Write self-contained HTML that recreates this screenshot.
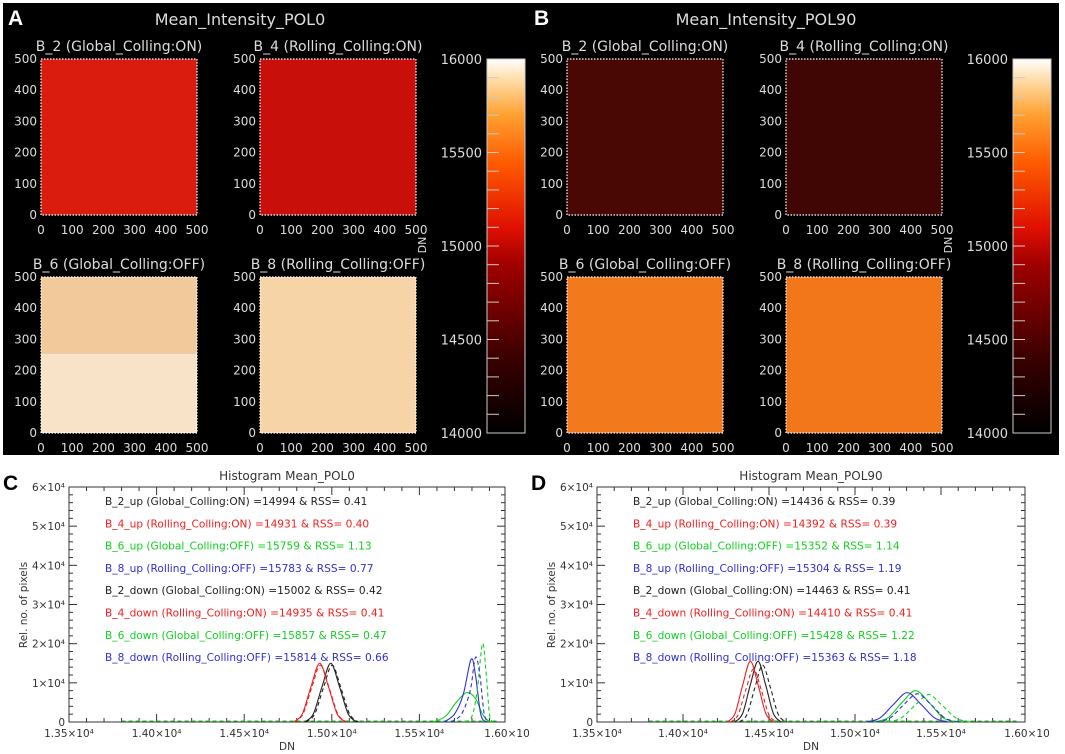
<!DOCTYPE html>
<html><head><meta charset="utf-8"><style>
html,body{margin:0;padding:0;background:#fff;}
svg{display:block;font-family:"DejaVu Sans","Liberation Sans",sans-serif;}
</style></head><body>
<svg id="fig" width="1065" height="754" viewBox="0 0 1065 754">
<defs>
<linearGradient id="cb" x1="0" y1="1" x2="0" y2="0">
<stop offset="0" stop-color="#000"/><stop offset="0.2" stop-color="#3a0000"/><stop offset="0.45" stop-color="#a00000"/>
<stop offset="0.55" stop-color="#e01000"/><stop offset="0.72" stop-color="#ff5a00"/><stop offset="0.85" stop-color="#ffa030"/>
<stop offset="0.95" stop-color="#ffe0b0"/><stop offset="1" stop-color="#fff"/></linearGradient>
</defs>
<rect x="0" y="0" width="1065" height="754" fill="#fff"/>
<g id="panels"></g>
<g id="hists"></g>
</svg>
<script>
// ---- heatmap panel data ----
const panelTitles = ["Mean_Intensity_POL0","Mean_Intensity_POL90"];
const panelLetters = ["A","B"];
const subTitles = ["B_2  (Global_Colling:ON)","B_4  (Rolling_Colling:ON)","B_6  (Global_Colling:OFF)","B_8  (Rolling_Colling:OFF)"];
const meanColorsA = ["#d91c0e","#c90f0a","#f3c590","#f6d4a8"];
const meanColorsB = ["#4a0805","#400604","#f27a1c","#f2761a"];
const axisTicks = [0,100,200,300,400,500];
const cbTicks = [14000,14500,15000,15500,16000];

// ---- histogram data (DN, counts in 1e4) ----
const histTitles = ["Histogram  Mean_POL0","Histogram  Mean_POL90"];
const histLetters = ["C","D"];
const xTicks = [13500,14000,14500,15000,15500,16000];
const xTickLabels = ["1.35×10⁴","1.40×10⁴","1.45×10⁴","1.50×10⁴","1.55×10⁴","1.60×10"];
const yTicks = [0,1,2,3,4,5,6];
const yTickLabels = ["0","1×10⁴","2×10⁴","3×10⁴","4×10⁴","5×10⁴","6×10⁴"];
const legendC = ["B_2_up (Global_Colling:ON) =14994 & RSS= 0.41","B_4_up (Rolling_Colling:ON) =14931 & RSS= 0.40","B_6_up (Global_Colling:OFF) =15759 & RSS= 1.13","B_8_up (Rolling_Colling:OFF) =15783 & RSS= 0.77","B_2_down (Global_Colling:ON) =15002 & RSS= 0.42","B_4_down (Rolling_Colling:ON) =14935 & RSS= 0.41","B_6_down (Global_Colling:OFF) =15857 & RSS= 0.47","B_8_down (Rolling_Colling:OFF) =15814 & RSS= 0.66"];
const legendD = ["B_2_up (Global_Colling:ON) =14436 & RSS= 0.39","B_4_up (Rolling_Colling:ON) =14392 & RSS= 0.39","B_6_up (Global_Colling:OFF) =15352 & RSS= 1.14","B_8_up (Rolling_Colling:OFF) =15304 & RSS= 1.19","B_2_down (Global_Colling:ON) =14463 & RSS= 0.41","B_4_down (Rolling_Colling:ON) =14410 & RSS= 0.41","B_6_down (Global_Colling:OFF) =15428 & RSS= 1.22","B_8_down (Rolling_Colling:OFF) =15363 & RSS= 1.18"];
const seriesColors = ["#222","#f02020","#10d020","#3030d0","#222","#f02020","#10d020","#3030d0"];
const seriesDashed = [false,false,false,false,true,true,true,true];
const cX = [
 [14844,14894,14944,14994,15044,15094,15144],
 [14781,14831,14881,14931,14981,15031,15081],
 [15580,15650,15710,15770,15820,15860,15900],
 [15640,15700,15750,15795,15820,15850,15880],
 [14852,14902,14952,15002,15052,15102,15152],
 [14785,14835,14885,14935,14985,15035,15085],
 [15760,15800,15830,15860,15880,15900,15920],
 [15680,15740,15790,15820,15845,15870,15895]];
const cY = [
 [0,0.2,0.9,1.5,0.9,0.2,0],
 [0,0.2,0.9,1.5,0.9,0.2,0],
 [0,0.15,0.5,0.75,0.6,0.2,0],
 [0,0.2,0.7,1.6,1.2,0.2,0],
 [0,0.2,0.87,1.45,0.87,0.2,0],
 [0,0.2,0.87,1.45,0.87,0.2,0],
 [0,0.15,0.8,2.0,1.3,0.2,0],
 [0,0.2,0.8,1.65,1.2,0.2,0]];
const dX = [
 [14301,14346,14391,14436,14481,14526,14571],
 [14257,14302,14347,14392,14437,14482,14527],
 [15112,15192,15272,15352,15432,15512,15592],
 [15064,15144,15224,15304,15384,15464,15544],
 [14328,14373,14418,14463,14508,14553,14598],
 [14275,14320,14365,14410,14455,14500,14545],
 [15188,15268,15348,15428,15508,15588,15668],
 [15123,15203,15283,15363,15443,15523,15603]];
const dY = [
 [0,0.21,0.94,1.55,0.94,0.21,0],
 [0,0.21,0.94,1.55,0.94,0.21,0],
 [0,0.11,0.49,0.8,0.49,0.11,0],
 [0,0.1,0.45,0.75,0.45,0.1,0],
 [0,0.2,0.88,1.45,0.88,0.2,0],
 [0,0.18,0.82,1.35,0.82,0.18,0],
 [0,0.1,0.42,0.7,0.42,0.1,0],
 [0,0.1,0.44,0.72,0.44,0.1,0]];

const NS="http://www.w3.org/2000/svg";
function mk(parent,tag,attrs,text){const e=document.createElementNS(NS,tag);for(const k in attrs)e.setAttribute(k,attrs[k]);if(text!==undefined)e.textContent=text;parent.appendChild(e);return e;}

// ---------- heatmap panels ----------
const panelRoot=document.getElementById('panels');
[0,1].forEach(pi=>{
 const ox = pi===0?0:526;
 const g=mk(panelRoot,'g',{});
 
 
 const bg=mk(g,'rect',{x:ox+3,y:3,width:pi===0?527:530,height:452,fill:'#000'});
 
 
 const L=mk(g,'text',{x:ox+8,y:25,fill:'#fff','font-size':21,'font-weight':'bold','font-family':'Liberation Sans,sans-serif'},panelLetters[pi]);
 
 
 const T=mk(g,'text',{x:ox+240,y:25,fill:'#ddd','font-size':16,'text-anchor':'middle'},panelTitles[pi]);
 
 
 const cols = pi===0?meanColorsA:meanColorsB;
 const pos=[[41,59],[260,59],[41,277],[260,277]];
 pos.forEach((p,i)=>{
  const x=ox+p[0], y=p[1], w=156, h=156;
  const sg=mk(g,'g',{});
  
  
  if(pi===0&&i===2){
   mk(sg,'rect',{x:x,y:y,width:w,height:h*0.49,fill:'#f2c99a'});
   mk(sg,'rect',{x:x,y:y+h*0.49,width:w,height:h*0.51,fill:'#f9e3c8'});
  } else mk(sg,'rect',{x:x,y:y,width:w,height:h,fill:cols[i]});
  mk(sg,'rect',{x:x,y:y,width:w,height:h,fill:'none',stroke:'#fff','stroke-width':1.2,'stroke-dasharray':'1.5 1.5'});
  const st=mk(sg,'text',{x:x+w/2,y:y-8,fill:'#ddd','font-size':14,'text-anchor':'middle'},subTitles[i]);
  
  
  axisTicks.forEach(t=>{
   const yy=y+h-t/500*h;
   mk(sg,'text',{x:x-4,y:yy+4,fill:'#ddd','font-size':12,'text-anchor':'end'},String(t));
   const xx=x+t/500*w;
   mk(sg,'text',{x:xx,y:y+h+19,fill:'#ddd','font-size':12,'text-anchor':'middle'},String(t));
  });
 });
 const dn=mk(g,'text',{x:0,y:0,fill:'#ddd','font-size':11,'text-anchor':'middle',transform:`translate(${ox+426},245) rotate(-90)`},'DN');
 
 
 const cbx=ox+487, cby=59, cbh=374, cbw=38;
 const cb=mk(g,'rect',{x:cbx,y:cby,width:cbw,height:cbh,fill:'url(#cb)'});
 
 
 mk(g,'rect',{x:cbx,y:cby,width:cbw,height:cbh,fill:'none',stroke:'#ccc','stroke-width':1});
 const cyS=v=>cby+cbh-(v-14000)/2000*cbh;
 for(let v=14000;v<=16000;v+=100){mk(g,'line',{x1:cbx,x2:cbx+12,y1:cyS(v),y2:cyS(v),stroke:'#ccc','stroke-width':1});}
 cbTicks.forEach(v=>{mk(g,'text',{x:cbx-5,y:cyS(v)+5,fill:'#ddd','font-size':13,'text-anchor':'end'},String(v));});
});

// ---------- histograms ----------
const histRoot=document.getElementById('hists');
const histBoxes=[{l:69,r:505},{l:597,r:1025}];
const plotTop=487, plotBot=722;
[0,1].forEach(hi=>{
 const b=histBoxes[hi];
 const xScale=v=>b.l+(v-13500)/2500*(b.r+2-b.l);
 const yScale=v=>plotBot-v/6*(plotBot-plotTop);
 const g=mk(histRoot,'g',{});
 
 
 const L=mk(g,'text',{x:b.l-66,y:490,fill:'#000','font-size':21,'font-weight':'bold','font-family':'Liberation Sans,sans-serif'},histLetters[hi]);
 
 
 const T=mk(g,'text',{x:(b.l+b.r)/2,y:480,fill:'#333','font-size':12,'text-anchor':'middle'},histTitles[hi]);
 
 
 mk(g,'rect',{x:b.l,y:plotTop,width:b.r-b.l,height:plotBot-plotTop,fill:'none',stroke:'#333','stroke-width':1});
 for(let v=13500;v<=16000;v+=100){const x=xScale(v);if(x>b.r)continue;const major=(v%500===0);const len=major?8:4;
  mk(g,'line',{x1:x,x2:x,y1:plotBot,y2:plotBot-len,stroke:'#333'});mk(g,'line',{x1:x,x2:x,y1:plotTop,y2:plotTop+len,stroke:'#333'});}
 for(let v=0;v<=6.01;v+=0.2){const y=yScale(v);const major=Math.abs(v-Math.round(v))<0.01;const len=major?8:4;
  mk(g,'line',{x1:b.l,x2:b.l+len,y1:y,y2:y,stroke:'#333'});mk(g,'line',{x1:b.r,x2:b.r-len,y1:y,y2:y,stroke:'#333'});}
 xTicks.forEach((v,i)=>{const t=mk(g,'text',{x:xScale(v),y:plotBot+15,fill:'#333','font-size':10.5,'text-anchor':'middle'},xTickLabels[i]);
  
  });
 yTicks.forEach((v,i)=>{const t=mk(g,'text',{x:b.l-4,y:yScale(v)+4,fill:'#333','font-size':10.5,'text-anchor':'end'},yTickLabels[i]);
  
  });
 const xl=mk(g,'text',{x:(b.l+b.r)/2,y:750,fill:'#333','font-size':10.5,'text-anchor':'middle'},'DN');
 
 
 const yl=mk(g,'text',{x:0,y:0,fill:'#333','font-size':10.5,'text-anchor':'middle',transform:`translate(${b.l-42},605) rotate(-90)`},'Rel. no. of pixels');
 
 
 const leg = hi===0?legendC:legendD;
 leg.forEach((s,i)=>{const t=mk(g,'text',{x:b.l+36,y:505+i*22.3,fill:seriesColors[i],'font-size':10.6},s);
  
  });
 mk(g,'line',{x1:xScale(13800),x2:xScale(15950),y1:plotBot-1,y2:plotBot-1,stroke:'#10d020','stroke-width':1,'stroke-dasharray':'4 3'});
 const XS = hi===0?cX:dX, YS = hi===0?cY:dY;
 XS.forEach((xs,si)=>{
  const pts=xs.map((v,k)=>[xScale(v),yScale(YS[si][k])]);
  let d=`M${pts[0][0]},${pts[0][1]}`;
  for(let k=0;k<pts.length-1;k++){
   const p0=pts[Math.max(0,k-1)],p1=pts[k],p2=pts[k+1],p3=pts[Math.min(pts.length-1,k+2)];
   const c1=[p1[0]+(p2[0]-p0[0])/6,p1[1]+(p2[1]-p0[1])/6],c2=[p2[0]-(p3[0]-p1[0])/6,p2[1]-(p3[1]-p1[1])/6];
   d+=` C${c1[0]},${Math.min(c1[1],plotBot)} ${c2[0]},${Math.min(c2[1],plotBot)} ${p2[0]},${p2[1]}`;
  }
  const path=mk(g,'path',{d:d,fill:'none',stroke:seriesColors[si],'stroke-width':1.1});
  if(seriesDashed[si])path.setAttribute('stroke-dasharray','4 3');
  
  
 });
});
</script>
</body></html>
